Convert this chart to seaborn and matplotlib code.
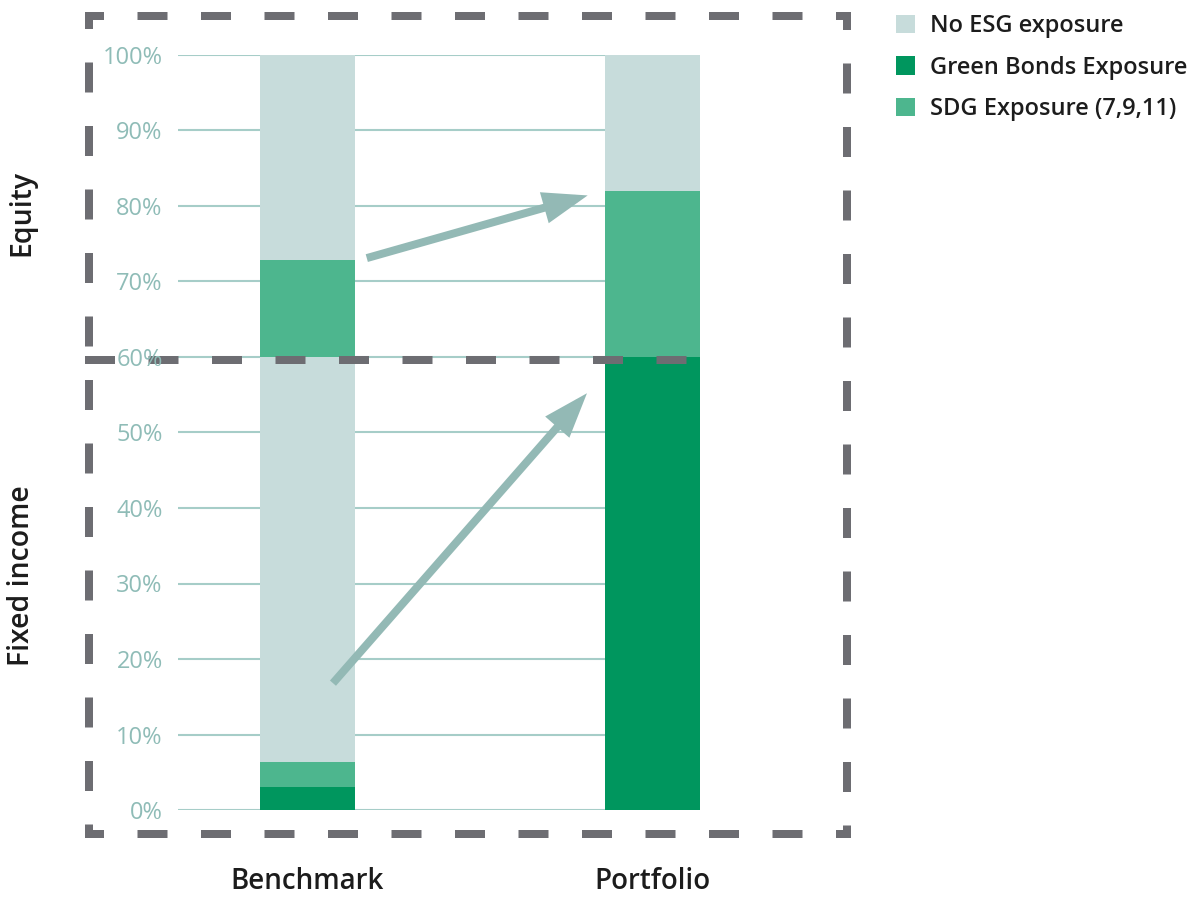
import matplotlib
matplotlib.use("Agg")
import matplotlib.pyplot as plt
import seaborn as sns
import numpy as np
from matplotlib.lines import Line2D
from matplotlib.patches import Patch

# ---------------- data ----------------
categories = ["Benchmark", "Portfolio"]
fi_green = [3.0, 60.0]      # Fixed income: Green Bonds Exposure
fi_sdg = [3.3, 0.0]         # Fixed income: SDG Exposure
fi_none = [53.7, 0.0]       # Fixed income: No ESG exposure
eq_sdg = [12.8, 22.0]       # Equity: SDG Exposure
eq_none = [27.2, 18.0]      # Equity: No ESG exposure
ytick_values = [0, 10, 20, 30, 40, 50, 60, 70, 80, 90, 100]
ytick_labels = [f"{v}%" for v in ytick_values]
legend_labels = ["No ESG exposure", "Green Bonds Exposure", "SDG Exposure (7,9,11)"]
section_labels = ["Equity", "Fixed income"]

C_NONE = "#c7dcdb"
C_GREEN = "#00965e"
C_SDG = "#4db68e"
C_TICK = "#8fbcb7"
C_GRID = "#a6cdc8"
C_ARROW = "#93b9b5"
C_DASH = "#6d6d72"
C_TEXT = "#1c1c1c"
TEXT_WEIGHT = "semibold"

sns.set_style("white")
plt.rcParams["font.family"] = ["Open Sans", "DejaVu Sans"]
plt.rcParams["lines.scale_dashes"] = False

W, H = 1197, 898
fig = plt.figure(figsize=(W / 100, H / 100), dpi=100)
ax = fig.add_axes([178 / W, 1 - 810 / H, (700 - 178) / W, (810 - 55) / H])

layers = [fi_green, fi_sdg, fi_none, eq_sdg, eq_none]
colors = [C_GREEN, C_SDG, C_NONE, C_SDG, C_NONE]
cum = np.cumsum(np.array(layers), axis=0)
# draw from top layer down so each lower layer overdraws the upper total
for i in range(len(layers) - 1, -1, -1):
    sns.barplot(x=categories, y=cum[i], color=colors[i], saturation=1,
                width=0.275, ax=ax, zorder=1, linewidth=0, edgecolor="none")

for v in ytick_values:
    ax.axhline(v, color=C_GRID, lw=1.5, zorder=0.5)

ax.set_ylim(0, 100)
ax.set_xlim(-0.375, 1.1375)
ax.set_yticks(ytick_values)
ax.set_yticklabels(ytick_labels)
ax.tick_params(axis="y", length=0, labelcolor=C_TICK, labelsize=17, pad=11)
ax.tick_params(axis="x", length=0, labelcolor=C_TEXT, labelsize=20, pad=41)
for lbl in ax.get_xticklabels():
    lbl.set_fontweight(TEXT_WEIGHT)
ax.set_xlabel("")
ax.set_ylabel("")
for s in ax.spines.values():
    s.set_visible(False)
ax.yaxis.set_zorder(10)
ax.xaxis.set_zorder(10)

# arrows
arrow_kw = dict(arrowstyle="-|>,head_length=21,head_width=7.5", color=C_ARROW,
                lw=5.76, shrinkA=0, shrinkB=0, mutation_scale=1,
                joinstyle="miter", capstyle="butt")
ax.annotate("", xy=(0.812, 81.4), xytext=(0.172, 73.1),
            arrowprops=arrow_kw, zorder=4)
ax.annotate("", xy=(0.81, 55.2), xytext=(0.074, 16.8),
            arrowprops=arrow_kw, zorder=4)

# dashed frame
def px(x, y):
    return x / W, 1 - y / H

def dash_line(x0, y0, x1, y1, offset):
    (fx0, fy0), (fx1, fy1) = px(x0, y0), px(x1, y1)
    ln = Line2D([fx0, fx1], [fy0, fy1], transform=fig.transFigure,
                color=C_DASH, lw=5.76, solid_capstyle="butt",
                dash_capstyle="butt",
                linestyle=(offset * 0.72, (30 * 0.72, 33.5 * 0.72)),
                clip_on=False, zorder=5)
    ax.add_line(ln)

dash_line(85, 16, 851, 16, 11)      # top
dash_line(85, 834, 851, 834, 11)    # bottom
dash_line(89, 12, 89, 838, 13)      # left
dash_line(847, 12, 847, 838, 12)    # right
dash_line(85, 360, 690, 360, 0)     # middle separator

# section labels
fig.text(22 / W, 1 - 213 / H, section_labels[0], rotation=90, ha="center",
         va="center", fontsize=20.5, color=C_TEXT, fontweight=TEXT_WEIGHT)
fig.text(22 / W, 1 - 576 / H, section_labels[1], rotation=90, ha="center",
         va="center", fontsize=20.5, color=C_TEXT, fontweight=TEXT_WEIGHT)

# legend
handles = [Patch(facecolor=c, edgecolor="none") for c in [C_NONE, C_GREEN, C_SDG]]
leg = fig.legend(handles, legend_labels, loc="upper left",
                 bbox_to_anchor=(896 / W, 1 - 14 / H), frameon=False,
                 fontsize=17, handlelength=0.8, handleheight=0.8,
                 handletextpad=0.62, labelspacing=0.75, borderpad=0,
                 borderaxespad=0, labelcolor=C_TEXT)
for t in leg.get_texts():
    t.set_fontweight(TEXT_WEIGHT)

fig.savefig("out.png", dpi=100)
